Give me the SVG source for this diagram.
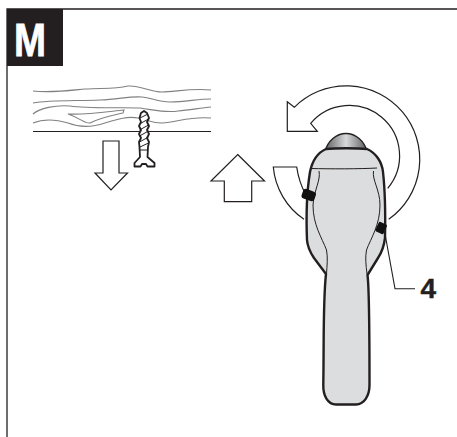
<svg xmlns="http://www.w3.org/2000/svg" width="457" height="437" viewBox="0 0 457 437">
<defs>
<linearGradient id="dome" x1="0" x2="1" y1="0" y2="0">
<stop offset="0" stop-color="#5e5f61"/><stop offset="0.5" stop-color="#d8d9da"/><stop offset="1" stop-color="#5a5b5d"/>
</linearGradient>
</defs>
<style>
.l{fill:none;stroke:#231f20;stroke-width:1}
.g{fill:none;stroke:#808182;stroke-width:1.100}
.a{fill:#fff;stroke:#231f20;stroke-width:1.200;stroke-linejoin:miter}
.t{font-family:"Liberation Sans",Arial,sans-serif;font-weight:700}
</style>
<rect width="457" height="437" fill="#fff"/>
<path id="frame" d="M457 9H7V437" fill="none" stroke="#231f20" stroke-width="1.300"/>
<g id="badge">
<rect x="7" y="9" width="56" height="57" fill="#231f20"/>
<text class="t" x="30" y="56" font-size="47" fill="#fff" stroke="#fff" stroke-width="0.800" text-anchor="middle" textLength="32" lengthAdjust="spacingAndGlyphs">M</text>
</g>
<g id="wood">
<path class="g" d="M33 91C50 93 65 91 85 89C105 88 115 89 128 86C140 85 150 92 162 92C175 92 190 88 211 90"/>
<path class="g" d="M33 103C50 100 75 101 100 100C120 99 130 96 142 97C152 98 158 102 170 102C185 102 198 99 211 99"/>
<path class="g" d="M33 114C40 108 55 105 70 106C90 109 125 107 140 108C155 110 165 113 178 111C190 110 200 108 211 107"/>
<path class="g" d="M33 123C45 118 58 120 68 123C78 127 90 128 105 123C118 119 128 116 138 118C148 120 152 123 162 123C178 122 190 116 211 118"/>
<path class="g" d="M68 114C85 115 105 112 124 110L123 113C110 116 100 118 90 123C85 124 80 118 68 114Z"/>
<path class="l" d="M33 131.500H211" stroke-width="1.300"/>
</g>
<g id="screw">
<path d="M144 111L147 113L149 118L147 122L149 126L147 130L149 134L147 138L149 142L148 147L147.500 157L154.500 163V166.500H147.500L146 164H142L140.500 166.500H134.500V163L140 157L139.500 147L139 142L141 138L139 134L141 130L139 126L141 122L139.500 118L141 113Z" fill="#fff" stroke="#231f20" stroke-width="1.800" stroke-linejoin="round"/>
<path d="M140 118L148 114M139.500 124L148.500 119M139.500 130L148.500 125M139.500 136L148.500 131M139.500 142L148.500 137M140 147L148.500 143M140 150H148" class="l" stroke-width="2"/>
</g>
<g id="arrow-down"><path class="a" d="M103 141H119V173H127.500L111 190L95 173H103Z"/></g>
<g id="arrow-up"><path class="a" d="M237.700 154.500L264.500 181H251.700V201.700H224.300V181H211Z"/></g>
<g id="arrow-rotate">
<path class="a" d="M388.700 219.300A73.500 73.500 0 1 0 294.300 107.300L287.300 101.700V131.300H317.300L310.700 123.300A50 50 0 0 1 387.700 188.300"/>
<path class="a" d="M304 219.300A71 71 0 0 1 273.300 167H296.700C298 176 301 186 306 195"/>
</g>
<g id="tool">
<path d="M325 151C328 141 336 133.500 346 133.500C356 133.500 364 141 367 151Z" fill="url(#dome)" stroke="#231f20" stroke-width="1.300"/>
<path d="M326 149C335 148 357 148 367 149C376 153 382 162 383 172C385 190 385.500 215 385 238C384 246 382 252 378 258L367.500 275C369.500 290 369.500 340 369.500 385C369.500 396 364 404.500 356 404.500H336C328 404.500 323 396 323.300 385C324 340 323 300 326 274L314 258C310 252 307.500 247 307 240C306 215 307 190 310 172C312 162 317 153 326 149Z" fill="#dcddde" stroke="#231f20" stroke-width="2.400" stroke-linejoin="round"/>
<path class="l" d="M311 168.500C330 169 360 169 377 168"/>
<path class="l" d="M319 171C321 180 314 190 313 205C313 225 322 238 326.500 250C328 258 327 265 326.500 274"/>
<path class="l" d="M373.500 171C372 180 380 190 380 205C380 225 371 238 366.500 250C365 258 366 265 367 274"/>
<rect x="302" y="190" width="13.500" height="10" rx="3" transform="rotate(20 308.500 195)" fill="#111"/>
<rect x="376.500" y="223.500" width="10.500" height="9" rx="1.500" transform="rotate(-65 381.500 228.500)" fill="#111"/>
</g>
<g id="connectors">
<path d="M384.300 230L395 288.700H415" fill="none" stroke="#231f20" stroke-width="1.100"/>
</g>
<g id="label-4"><text class="t" x="420.500" y="298" font-size="28" fill="#231f20" stroke="#231f20" stroke-width="0.400">4</text></g>
</svg>
